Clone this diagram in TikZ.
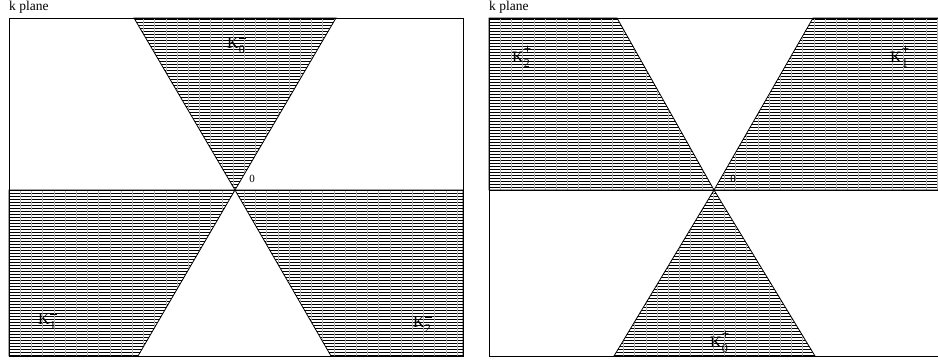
\documentclass[tikz,border=0pt]{standalone}
\usepackage{fontspec}
\setmainfont{Liberation Serif}
\tikzset{
  frame/.style={draw=black, line width=0.9pt},
  edge/.style={draw=black, line width=0.8pt},
  hatchh/.style={draw=black, line width=0.65pt},
  hatchv/.style={draw=black!30, line width=0.3pt},
  klabel/.style={anchor=base west, inner sep=0pt, font=\fontsize{16}{16}\selectfont},
  zlabel/.style={inner sep=0pt, font=\fontsize{11}{11}\selectfont},
  title/.style={anchor=north west, inner sep=0pt, font=\fontsize{13.5}{13.5}\selectfont}
}
\newcommand\hatchregion[2]{%
  \begin{scope}
    \clip #1;
    \foreach \yy in {19,22,...,355} \draw[hatchh] (0,\yy) -- (940,\yy);
    \foreach \xx in {#2} \draw[hatchv] (\xx,0) -- (\xx,364);
  \end{scope}
  \draw[edge] #1;
}
\newcommand\KminusSup{\rule{7pt}{1.3pt}}
\newcommand\KplusSup{\fontsize{13}{13}\selectfont\bfseries +}
\newcommand\Klab[2]{K\makebox[0pt][l]{\raisebox{1.2ex}{#2}}\raisebox{-0.8ex}{\fontsize{12}{12}\selectfont #1}}
\begin{document}
\begin{tikzpicture}[x=1pt,y=-1pt]
\useasboundingbox (0,0) rectangle (938,364);
\fill[white] (0,0) rectangle (938,364);
% ---------- left panel ----------
\hatchregion{(134,18) -- (336,18) -- (235,190) -- cycle}{20.2,31.4,...,463}
\hatchregion{(9,190) -- (235,190) -- (138,356) -- (9,356) -- cycle}{20.2,31.4,...,463}
\hatchregion{(235,190) -- (463,190) -- (463,356) -- (331,356) -- cycle}{20.2,31.4,...,463}
\draw[frame] (9,18) rectangle (463,356);
\draw[edge] (9,190) -- (463,190);
% ---------- right panel ----------
\hatchregion{(489,18) -- (617,18) -- (714,190) -- (489,190) -- cycle}{500.2,511.4,...,940}
\hatchregion{(813,18) -- (945,18) -- (945,190) -- (714,190) -- cycle}{500.2,511.4,...,940}
\hatchregion{(714,190) -- (815,356) -- (614,356) -- cycle}{500.2,511.4,...,940}
\draw[frame] (489,18) rectangle (945,356);
\draw[edge] (489,190) -- (945,190);
% ---------- texts ----------
\node[title] (t1) at (9,1) {k plane};
\node[title] (t2) at (489,1) {k plane};
\node[zlabel] (z1) at (252,179) {0};
\node[zlabel] (z2) at (733,179) {0};
\node[klabel] (k0m) at (227,48) {\Klab{0}{\KminusSup}};
\node[klabel] (k1m) at (38,324) {\Klab{1}{\KminusSup}};
\node[klabel] (k2m) at (413,327) {\Klab{2}{\KminusSup}};
\node[klabel] (k2p) at (512,62) {\Klab{2}{\KplusSup}};
\node[klabel] (k1p) at (890,62) {\Klab{1}{\KplusSup}};
\node[klabel] (k0p) at (710,347) {\Klab{0}{\KplusSup}};
\end{tikzpicture}
\end{document}
